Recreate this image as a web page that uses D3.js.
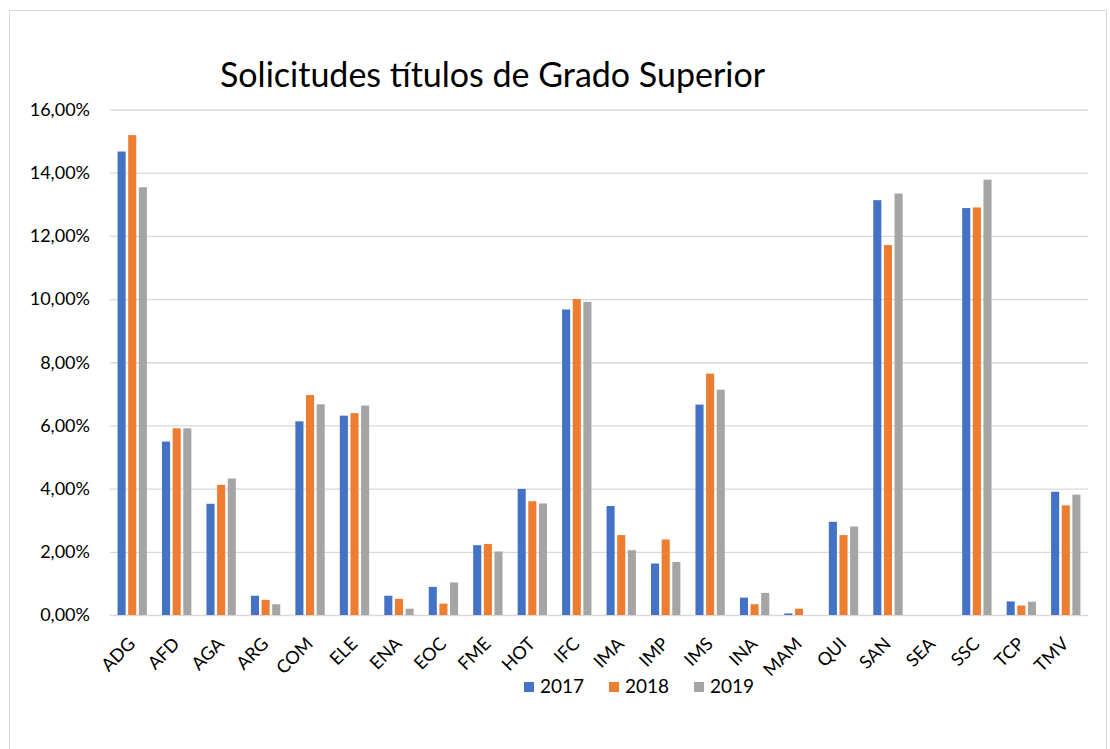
<!DOCTYPE html>
<html>
<head>
<meta charset="utf-8">
<script src="https://cdn.jsdelivr.net/npm/d3@7"></script>
<style>
  body { margin: 0; background: #fff; }
  text { font-family: Lato, "Open Sans", sans-serif; fill: #000; }
</style>
</head>
<body>
<div id="chart"></div>
<script>
var categories = ["ADG","AFD","AGA","ARG","COM","ELE","ENA","EOC","FME","HOT","IFC","IMA","IMP","IMS","INA","MAM","QUI","SAN","SEA","SSC","TCP","TMV"];
var years = ["2017", "2018", "2019"];
var v2017 = [14.67, 5.49, 3.52, 0.61, 6.13, 6.31, 0.61, 0.89, 2.21, 3.99, 9.67, 3.45, 1.63, 6.66, 0.55, 0.05, 2.95, 13.13, 0, 12.88, 0.43, 3.90];
var v2018 = [15.19, 5.91, 4.12, 0.48, 6.96, 6.39, 0.51, 0.36, 2.25, 3.60, 10.00, 2.53, 2.39, 7.64, 0.34, 0.20, 2.53, 11.71, 0, 12.90, 0.30, 3.47];
var v2019 = [13.54, 5.91, 4.32, 0.34, 6.67, 6.63, 0.20, 1.03, 2.01, 3.53, 9.91, 2.05, 1.68, 7.13, 0.70, 0, 2.80, 13.34, 0, 13.78, 0.42, 3.81];
var yTicks = [0, 2, 4, 6, 8, 10, 12, 14, 16];
var colors = ["#4472C4", "#ED7D31", "#A5A5A5"];

var w = 1110, h = 749;
var plotL = 110, plotR = 1088, plotT = 109.5, plotB = 615;

var svg = d3.select("#chart").append("svg")
  .attr("width", w)
  .attr("height", h);

// chart frame
svg.append("rect")
  .attr("x", 9.5).attr("y", 10.5)
  .attr("width", 1097).attr("height", 760)
  .attr("fill", "none")
  .attr("stroke", "#d9d9d9");

var series = [v2017, v2018, v2019];

var x0 = d3.scaleBand()
  .domain(categories)
  .range([plotL, plotR])
  .paddingInner(0.34)
  .paddingOuter(0.17);

var x1 = d3.scaleBand()
  .domain(years)
  .range([0, x0.bandwidth()])
  .paddingInner(0.24);

var y = d3.scaleLinear()
  .domain([0, 16])
  .range([plotB, plotT]);

var fmt = function(d) { return d.toFixed(2).replace(".", ",") + "%"; };

// gridlines + y labels
var yAxis = d3.axisLeft(y)
  .tickValues(yTicks)
  .tickSize(-(plotR - plotL))
  .tickPadding(20)
  .tickFormat(fmt);

var gy = svg.append("g")
  .attr("transform", "translate(" + plotL + ",0)")
  .call(yAxis);
gy.select(".domain").remove();
gy.selectAll("line").attr("stroke", "#d9d9d9").attr("stroke-width", 1.3);
gy.selectAll("text")
  .attr("font-family", null)
  .style("font-size", "18px");

// bars
series.forEach(function(vals, s) {
  svg.append("g").selectAll("rect")
    .data(vals)
    .enter()
    .append("rect")
    .attr("x", function(d, i) { return x0(categories[i]) + x1(years[s]); })
    .attr("y", function(d) { return y(d); })
    .attr("width", x1.bandwidth())
    .attr("height", function(d) { return plotB - y(d); })
    .attr("fill", colors[s]);
});

// x labels
svg.append("g").selectAll("text")
  .data(categories)
  .enter()
  .append("text")
  .attr("transform", function(d) {
    return "translate(" + (x0(d) + x0.bandwidth() / 2 + 4) + "," + (plotB + 30) + ") rotate(-45)";
  })
  .attr("text-anchor", "end")
  .style("font-size", "18px")
  .text(function(d) { return d; });

// title
svg.append("text")
  .attr("x", 220)
  .attr("y", 87)
  .style("font-size", "34px")
  .text("Solicitudes títulos de Grado Superior");

// legend
var leg = svg.append("g").selectAll("g")
  .data(years)
  .enter()
  .append("g")
  .attr("transform", function(d, i) { return "translate(" + (524 + i * 85) + ",682)"; });
leg.append("rect")
  .attr("width", 10).attr("height", 10)
  .attr("fill", function(d, i) { return colors[i]; });
leg.append("text")
  .attr("x", 16).attr("y", 10.5)
  .style("font-size", "19px")
  .text(function(d) { return d; });
</script>
</body>
</html>
